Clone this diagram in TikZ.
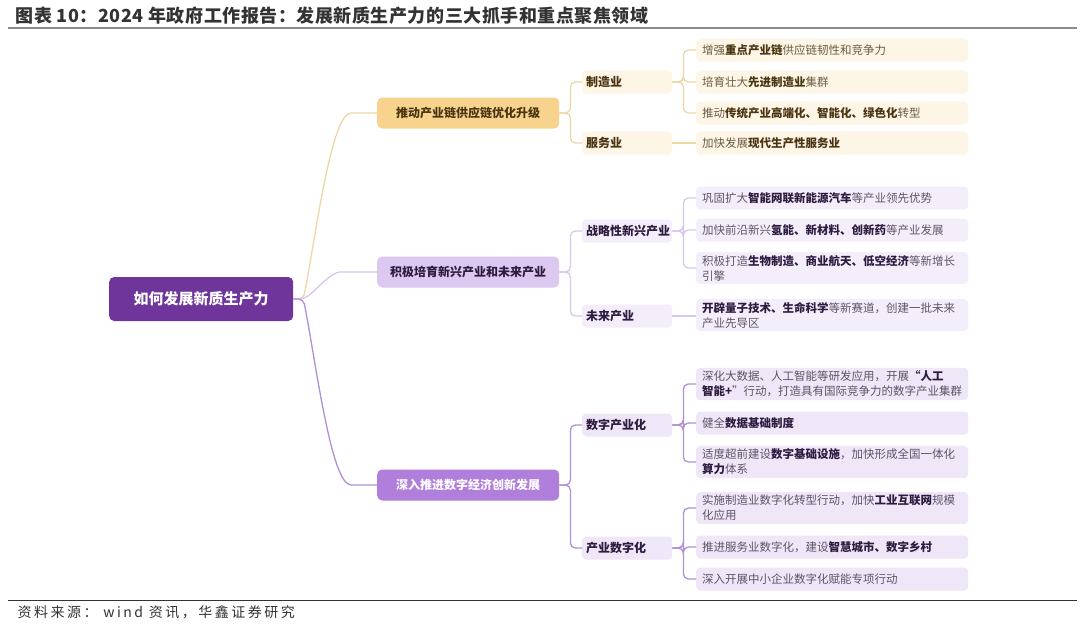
\documentclass[tikz,border=0pt]{standalone}
\usepackage{fontspec}
\setmainfont{Noto Sans CJK SC}
\newfontfamily\srcfont{Noto Sans CJK SC}[LetterSpace=18]
\newfontfamily\titlefont{Noto Sans CJK SC}[LetterSpace=3]
\usetikzlibrary{positioning}

\definecolor{rootpurple}{HTML}{6F359B}
\definecolor{goldfill}{HTML}{F8D38D}
\definecolor{goldline}{HTML}{EFD7A5}
\definecolor{goldleaf}{HTML}{FDF5E6}
\definecolor{goldtext}{HTML}{6B5C42}
\definecolor{goldkey}{HTML}{4A3512}
\definecolor{lilacfill}{HTML}{DCC8F0}
\definecolor{lilacline}{HTML}{D8C7EC}
\definecolor{lilacleaf}{HTML}{F4EEFA}
\definecolor{violetfill}{HTML}{B07FDB}
\definecolor{violetline}{HTML}{B290D4}
\definecolor{violetleaf}{HTML}{EFE6F8}
\definecolor{plumtext}{HTML}{5E5468}
\definecolor{plumkey}{HTML}{2E1C40}

\newcommand{\kwg}[1]{\textbf{\color{goldkey}#1}}
\newcommand{\kwp}[1]{\textbf{\color{plumkey}#1}}

\tikzset{
    rootbox/.style={fill=rootpurple, text=white, rounded corners=5, minimum width=184, minimum height=44, anchor=west, font=\fontsize{15}{18}\selectfont\bfseries},
    topicbox/.style={rounded corners=5, minimum width=182, minimum height=31, anchor=west, font=\fontsize{12}{14}\selectfont\bfseries},
    fieldbox/.style={rounded corners=4, text width=82, inner xsep=4, minimum height=23, align=left, anchor=west, font=\fontsize{12}{14}\selectfont\bfseries},
    leafbox/.style={rounded corners=4, text width=260, inner xsep=6, inner ysep=3, minimum height=23, align=left, anchor=west, font=\fontsize{11.5}{15}\selectfont},
    link/.style={line width=1.3, rounded corners=5}
}

\begin{document}
\begin{tikzpicture}[x=1pt,y=-1pt]
    \fill[white] (0,0) rectangle (1080,630);

    % header and footer
    \node[anchor=west, text=black!80, font=\titlefont\fontsize{18}{20}\selectfont\bfseries] (title) at (12,16) {图表 10：2024 年政府工作报告：发展新质生产力的三大抓手和重点聚焦领域};
    \draw[black!45, line width=2] (8,28) -- (1077,28);
    \draw[black!80, line width=1] (8,600) -- (1077,600);
    \node[anchor=west, text=black!80, font=\srcfont\fontsize{14}{16}\selectfont] (source) at (14,612) {资料来源： wind 资讯，华鑫证券研究};

    % root and main topics
    \node[rootbox] (root) at (109,299) {如何发展新质生产力};
    \node[topicbox, fill=goldfill, text=goldkey] (chain) at (377,113) {推动产业链供应链优化升级};
    \node[topicbox, fill=lilacfill, text=plumkey] (emerge) at (377,272) {积极培育新兴产业和未来产业};
    \node[topicbox, fill=violetfill, text=white] (digital) at (377,485) {深入推进数字经济创新发展};

    \draw[link, goldline] (root.east) -- ++(10,0) .. controls +(12,-60) and +(-25,0) .. ([xshift=-21]chain.west) -- (chain.west);
    \draw[link, lilacline] (root.east) -- ++(10,0) .. controls +(12,-8) and +(-14,0) .. ([xshift=-32]emerge.west) -- (emerge.west);
    \draw[link, violetline] (root.east) -- ++(10,0) .. controls +(12,60) and +(-25,0) .. ([xshift=-21]digital.west) -- (digital.west);

    % fields
    \node[fieldbox, fill=goldleaf, text=goldkey] (mfg) at (582,82) {制造业};
    \node[fieldbox, fill=goldleaf, text=goldkey] (svc) at (582,143) {服务业};
    \node[fieldbox, fill=lilacleaf, text=plumkey] (strat) at (582,231) {战略性新兴产业};
    \node[fieldbox, fill=lilacleaf, text=plumkey] (future) at (582,316) {未来产业};
    \node[fieldbox, fill=violetleaf, text=plumkey] (dind) at (582,425) {数字产业化};
    \node[fieldbox, fill=violetleaf, text=plumkey] (indd) at (582,548) {产业数字化};

    \foreach \f in {mfg,svc} \draw[link, goldline] (chain.east) -- ++(11,0) |- (\f.west);
    \foreach \f in {strat,future} \draw[link, lilacline] (emerge.east) -- ++(11,0) |- (\f.west);
    \foreach \f in {dind,indd} \draw[link, violetline] (digital.east) -- ++(11,0) |- (\f.west);

    % leaves
    \node[leafbox, fill=goldleaf, text=goldtext] (mfga) at (696,50) {增强\kwg{重点产业链}供应链韧性和竞争力};
    \node[leafbox, fill=goldleaf, text=goldtext] (mfgb) at (696,82) {培育壮大\kwg{先进制造业}集群};
    \node[leafbox, fill=goldleaf, text=goldtext] (mfgc) at (696,113) {推动\kwg{传统产业高端化、智能化、绿色化}转型};
    \node[leafbox, fill=goldleaf, text=goldtext] (svca) at (696,143) {加快发展\kwg{现代生产性服务业}};

    \node[leafbox, fill=lilacleaf, text=plumtext] (strata) at (696,198) {巩固扩大\kwp{智能网联新能源汽车}等产业领先优势};
    \node[leafbox, fill=lilacleaf, text=plumtext] (stratb) at (696,230) {加快前沿新兴\kwp{氢能、新材料、创新药}等产业发展};
    \node[leafbox, fill=lilacleaf, text=plumtext] (stratc) at (696,268) {积极打造\kwp{生物制造、商业航天、低空经济}等新增长\\引擎};
    \node[leafbox, fill=lilacleaf, text=plumtext] (futurea) at (696,315) {\kwp{开辟量子技术、生命科学}等新赛道，创建一批未来\\产业先导区};

    \node[leafbox, fill=violetleaf, text=plumtext] (dinda) at (696,384) {深化大数据、人工智能等研发应用，开展\kwp{“人工}\\\kwp{智能+}”行动，打造具有国际竞争力的数字产业集群};
    \node[leafbox, fill=violetleaf, text=plumtext] (dindb) at (696,423) {健全\kwp{数据基础制度}};
    \node[leafbox, fill=violetleaf, text=plumtext] (dindc) at (696,462) {适度超前建设\kwp{数字基础设施}，加快形成全国一体化\\\kwp{算力}体系};
    \node[leafbox, fill=violetleaf, text=plumtext] (indda) at (696,508) {实施制造业数字化转型行动，加快\kwp{工业互联网}规模\\化应用};
    \node[leafbox, fill=violetleaf, text=plumtext] (inddb) at (696,547) {推进服务业数字化，建设\kwp{智慧城市、数字乡村}};
    \node[leafbox, fill=violetleaf, text=plumtext] (inddc) at (696,579) {深入开展中小企业数字化赋能专项行动};

    \foreach \l in {mfga,mfgb,mfgc} \draw[link, goldline] (mfg.east) -- ++(11,0) |- (\l.west);
    \draw[link, goldline] (svc.east) -- (svca.west);
    \foreach \l in {strata,stratb,stratc} \draw[link, lilacline] (strat.east) -- ++(11,0) |- (\l.west);
    \draw[link, lilacline] (future.east) -- (future.east -| futurea.west);
    \foreach \l in {dinda,dindb,dindc} \draw[link, violetline] (dind.east) -- ++(11,0) |- (\l.west);
    \foreach \l in {indda,inddb,inddc} \draw[link, violetline] (indd.east) -- ++(11,0) |- (\l.west);
\end{tikzpicture}
\end{document}
